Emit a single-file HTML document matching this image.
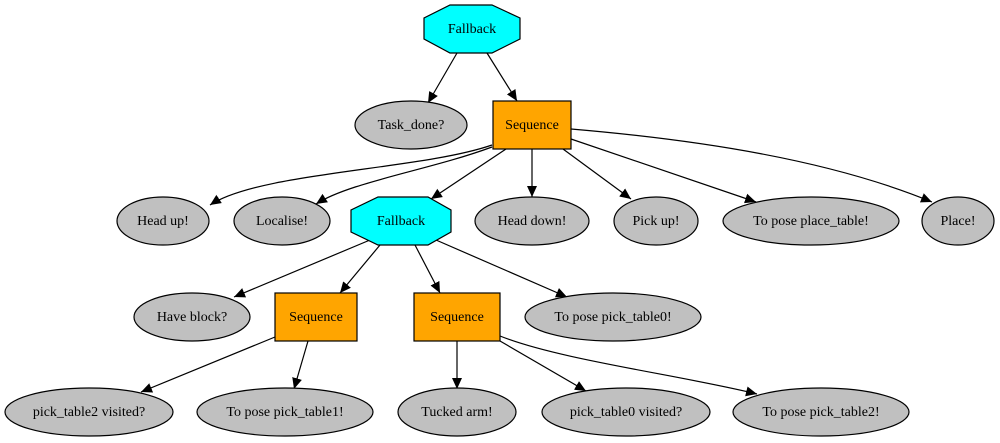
<!DOCTYPE html>
<html><head><style>
html,body{margin:0;padding:0;background:#fff;}
svg{display:block;}
</style></head><body>
<svg width="1000" height="443" viewBox="0 0 1000 443" xmlns="http://www.w3.org/2000/svg">
<defs>
<marker id="a" markerUnits="userSpaceOnUse" markerWidth="12" markerHeight="12" refX="11" refY="5" orient="auto">
<polygon points="0,0 11,5 0,10" fill="#000"/>
</marker>
</defs>
<g fill="none" stroke="#000" stroke-width="1.2" marker-end="url(#a)">
<path d="M457,53 L428,103"/>
<path d="M487,53 L517,101"/>
<path d="M492,145 C420,170 260,172 210,205"/>
<path d="M492,147 C430,170 350,182 316,204"/>
<path d="M506,149 L431,199"/>
<path d="M532,149 L532,197"/>
<path d="M563,149 L631,199"/>
<path d="M571,139 L756,202"/>
<path d="M571,129 C700,140 830,160 932,202"/>
<path d="M370,240 L234,297"/>
<path d="M380,245 L340,293"/>
<path d="M415,245 L440,293"/>
<path d="M436,240 L567,297"/>
<path d="M275,337 L141,392"/>
<path d="M308,341 L294,389"/>
<path d="M457,341 L457,389"/>
<path d="M500,341 L586,391"/>
<path d="M500,336 C560,360 680,375 757,394"/>
</g>
<g stroke="#000" stroke-width="1.2">
<polygon points="450,5 492,5 520,18 520,39 492,53 450,53 424,39 424,18" fill="#00ffff"/>
<rect x="493" y="101" width="78" height="48" fill="#ffa500"/>
<polygon points="378,197 428,197 451,210 451,232 428,245 378,245 351,232 351,210" fill="#00ffff"/>
<rect x="275" y="293" width="82" height="48" fill="#ffa500"/>
<rect x="414" y="293" width="86" height="48" fill="#ffa500"/>
<g fill="#c0c0c0">
<ellipse cx="411" cy="125" rx="56" ry="24"/>
<ellipse cx="163" cy="221" rx="46" ry="24"/>
<ellipse cx="282" cy="221" rx="48" ry="24"/>
<ellipse cx="532" cy="221" rx="57" ry="24"/>
<ellipse cx="656" cy="221" rx="42" ry="24"/>
<ellipse cx="811" cy="221" rx="88" ry="24"/>
<ellipse cx="958" cy="221" rx="36" ry="24"/>
<ellipse cx="192" cy="317" rx="58" ry="24"/>
<ellipse cx="613" cy="317" rx="88" ry="24"/>
<ellipse cx="89" cy="412" rx="84" ry="24"/>
<ellipse cx="285" cy="412" rx="88" ry="24"/>
<ellipse cx="457" cy="412" rx="59" ry="24"/>
<ellipse cx="626" cy="412" rx="84" ry="24"/>
<ellipse cx="821" cy="412" rx="88" ry="24"/>
</g>
</g>
<g text-anchor="middle" fill="#000" font-family="'Liberation Serif', 'Times New Roman', serif" font-size="14">
<text x="472" y="33">Fallback</text>
<text x="532" y="129">Sequence</text>
<text x="401" y="225">Fallback</text>
<text x="316" y="321">Sequence</text>
<text x="457" y="321">Sequence</text>
<text x="411" y="129">Task_done?</text>
<text x="163" y="225">Head up!</text>
<text x="282" y="225">Localise!</text>
<text x="532" y="225">Head down!</text>
<text x="656" y="225">Pick up!</text>
<text x="811" y="225">To pose place_table!</text>
<text x="958" y="225">Place!</text>
<text x="192" y="321">Have block?</text>
<text x="613" y="321">To pose pick_table0!</text>
<text x="89" y="416">pick_table2 visited?</text>
<text x="285" y="416">To pose pick_table1!</text>
<text x="457" y="416">Tucked arm!</text>
<text x="626" y="416">pick_table0 visited?</text>
<text x="821" y="416">To pose pick_table2!</text>
</g>
</svg>
</body></html>
